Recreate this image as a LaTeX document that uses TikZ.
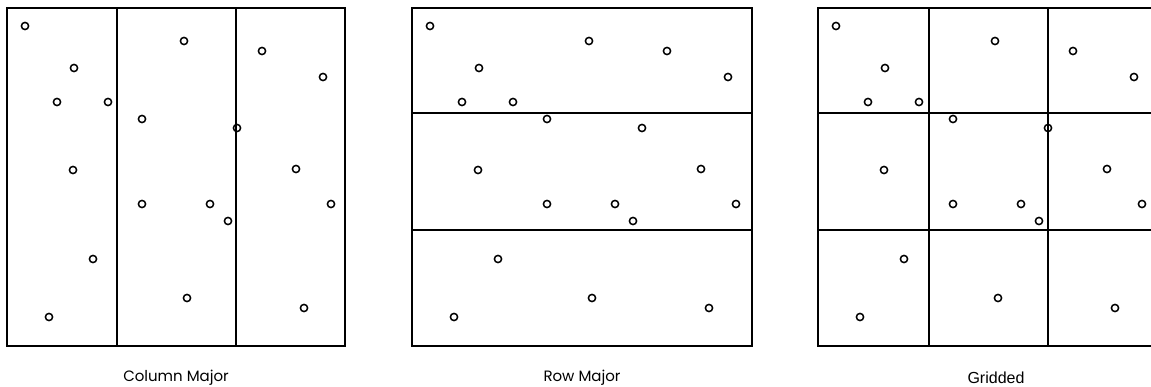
\documentclass[tikz,border=0pt]{standalone}
\usepackage{fontspec}
\setmainfont{Poppins}
\newfontfamily\gridfont{Liberation Sans}
\newcommand\samplepts{18/18, 67/60, 50/94, 101/94, 66/162, 86/251, 42/309,
  177/33, 135/111, 135/196, 203/196, 221/213, 180/290,
  255/43, 316/69, 230/120, 289/161, 324/196, 297/300}
\begin{document}
\begin{tikzpicture}[x=1pt,y=-1pt,
  frame/.style={line width=1.9pt},
  split/.style={line width=1.3pt},
  sample/.style={line width=1.5pt},
  caption/.style={font=\fontsize{15}{17}\selectfont}]
\useasboundingbox (0,0) rectangle (1151,387);
% column major
\begin{scope}[shift={(7,8)}]
\draw[split] (110,0) -- (110,338) (229,0) -- (229,338);
\draw[frame] (0,0) rectangle (338,338);
\foreach \px/\py in \samplepts \draw[sample] (\px,\py) circle[radius=3.6];
\end{scope}
% row major
\begin{scope}[shift={(412,8)}]
\draw[split] (0,105) -- (340,105) (0,222) -- (340,222);
\draw[frame] (0,0) rectangle (340,338);
\foreach \px/\py in \samplepts \draw[sample] (\px,\py) circle[radius=3.6];
\end{scope}
% gridded
\begin{scope}[shift={(818,8)}]
\draw[split] (111,0) -- (111,338) (230,0) -- (230,338)
  (0,105) -- (338,105) (0,222) -- (338,222);
\draw[frame] (0,0) rectangle (338,338);
\foreach \px/\py in \samplepts \draw[sample] (\px,\py) circle[radius=3.6];
\end{scope}
\node[caption] (colcap) at (176,378) {Column Major};
\node[caption] (rowcap) at (582,378) {Row Major};
\node[caption, font=\gridfont\fontsize{16}{18}\selectfont] (gridcap) at (996,378) {Gridded};
\end{tikzpicture}
\end{document}
